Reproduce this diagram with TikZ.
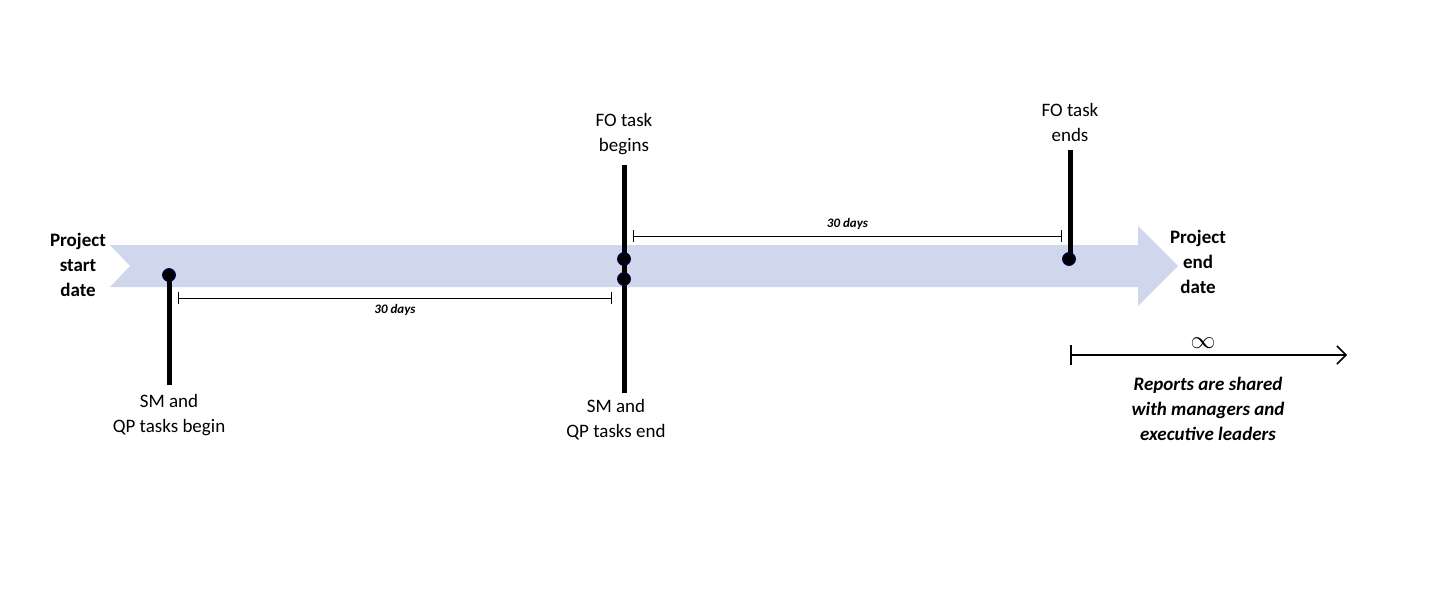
\documentclass[tikz,border=0pt]{standalone}
\usepackage{fontspec}
\setmainfont{Carlito}
\usetikzlibrary{arrows.meta}
\definecolor{band}{RGB}{208,214,236}
\begin{document}
\begin{tikzpicture}[x=1pt,y=-1pt,
  lbl/.style={align=center,font=\fontsize{19}{25}\selectfont},
  blbl/.style={align=center,font=\fontsize{19}{25}\selectfont\bfseries},
  days/.style={font=\fontsize{13}{15}\selectfont\bfseries\itshape},
  bar/.style={line width=5pt},
  dot/.style={circle,fill=black,draw=blue!40!black,line width=0.8pt,inner sep=0pt,minimum size=13pt},
  dim/.style={line width=1pt,{Bar[width=12pt]}-{Bar[width=12pt]}}]
\useasboundingbox (0,0) rectangle (1433,603);
\fill[band] (110,245) -- (1138,245) -- (1138,226) -- (1178,266) -- (1138,306) -- (1138,287) -- (110,287) -- (130,266) -- cycle;
\coordinate (b1t) at (169,275); \coordinate (b1b) at (169,385);
\coordinate (b2t) at (624,165); \coordinate (b2b) at (624,393);
\coordinate (b3t) at (1070,150); \coordinate (b3b) at (1070,260);
\draw[bar] (b1t) -- (b1b);
\draw[bar] (b2t) -- (b2b);
\draw[bar] (b3t) -- (b3b);
\node[dot] (d1) at (169,275) {};
\node[dot] (d2) at (624,259) {};
\node[dot] (d3) at (624,279) {};
\node[dot] (d4) at (1069,259) {};
\coordinate (l1) at (178,298); \coordinate (l2) at (612,298);
\draw[dim] (l1) -- node[days,below=3pt] (t1) {30 days} (l2);
\coordinate (u1) at (633,236); \coordinate (u2) at (1062,236);
\draw[dim] (u1) -- node[days,above=3pt] (t2) {30 days} (u2);
\node[blbl] (ps) at (78,265) {Project\\start\\date};
\node[blbl] (pe) at (1198,262) {Project\\end\\date};
\node[lbl] (fb) at (624,134) {FO task\\begins};
\node[lbl] (fe) at (1070,122) {FO task\\ends};
\node[lbl] (sb) at (169,415) {SM and\\QP tasks begin};
\node[lbl] (se) at (616,420) {SM and\\QP tasks end};
\coordinate (i1) at (1070,355); \coordinate (i2) at (1347,355);
\draw[line width=1.5pt,{Bar[width=20pt]}-{Straight Barb[length=9pt,width=18pt]}] (i1) -- (i2);
\node[font=\fontsize{34}{34}\selectfont] (inf) at (1203,343) {$\infty$};
\node[align=center,font=\fontsize{19}{25}\selectfont\bfseries\itshape] (rep) at (1208,409) {Reports are shared\\with managers and\\executive leaders};
\end{tikzpicture}
\end{document}
